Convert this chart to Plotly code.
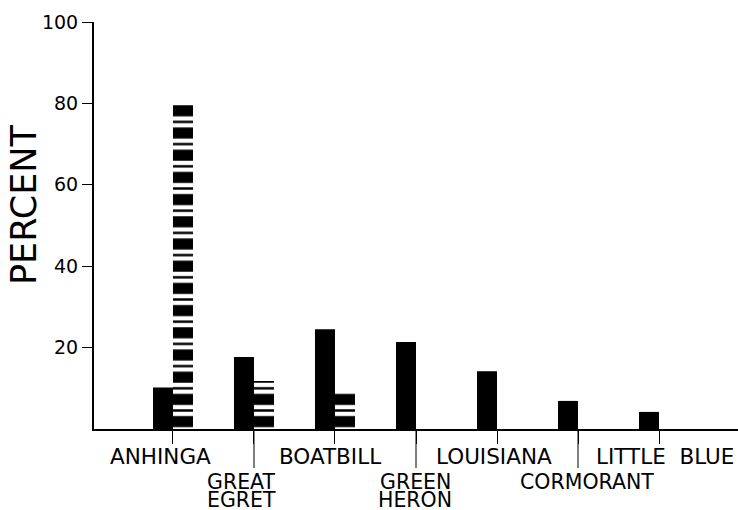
import plotly.graph_objects as go

# Species along the bottom axis, with the text lines used for each label
categories = ["ANHINGA", "GREAT EGRET", "BOATBILL", "GREEN HERON",
              "LOUISIANA", "CORMORANT", "LITTLE BLUE"]
label_lines = [["ANHINGA"], ["GREAT", "EGRET"], ["BOATBILL"], ["GREEN", "HERON"],
               ["LOUISIANA"], ["CORMORANT"], ["LITTLE\u00a0\u00a0BLUE"]]

# Percent values: solid bars and striped bars
solid_pct = [10.2, 17.7, 24.5, 21.4, 14.2, 6.9, 4.2]
striped_pct = [79.6, 11.8, 8.8, 0, 0, 0, 0]

y_tick_vals = [20, 40, 60, 80, 100]
y_tick_text = ["20", "40", "60", "80", "100"]

FONT = "DejaVu Sans"
BAR_W = 0.247          # bar width in category units
PLOT_H = 407           # plot height in px (for paper-coordinate conversions)
STRIPE = 22.2          # stripe period in px

x = list(range(len(categories)))

fig = go.Figure()

# Solid bars sit just left of each tick
fig.add_trace(go.Bar(
    x=x, y=solid_pct, width=BAR_W, offset=-BAR_W,
    marker=dict(color="black", line=dict(width=0)),
    hoverinfo="skip",
))

# Striped bars sit just right of each tick: black with wide white bands...
fig.add_trace(go.Bar(
    x=x, y=striped_pct, width=BAR_W, offset=0,
    marker=dict(color="black", line=dict(width=0),
                pattern=dict(shape="-", fillmode="replace",
                             fgcolor="white", fgopacity=1, bgcolor="black",
                             size=STRIPE, solidity=0.5)),
    hoverinfo="skip",
))
# ...and a thin black rule in the middle of every white band
fig.add_trace(go.Bar(
    x=x, y=striped_pct, width=BAR_W, offset=0,
    marker=dict(color="rgba(0,0,0,0)", line=dict(width=0),
                pattern=dict(shape="-", fillmode="replace",
                             fgcolor="black", fgopacity=1, bgcolor="rgba(0,0,0,0)",
                             size=STRIPE, solidity=0.11)),
    hoverinfo="skip",
))

shapes = []
annotations = []

# Staggered category labels; every other tick is drawn longer
label_shift = [-12.5, -12, -4.5, -1, -3.5, 9, 5.5]
upper_row = 457
lower_rows = [481, 499]
for i, lines in enumerate(label_lines):
    if i % 2 == 1:
        shapes.append(dict(type="line", xref="x", yref="paper",
                           x0=i, x1=i, y0=0, y1=-39 / PLOT_H,
                           line=dict(color="black", width=1)))
        rows = lower_rows
        size, box_h = 20.5, 17
    else:
        rows = [upper_row]
        size, box_h = 21.5, None
    for line, ypx in zip(lines, rows):
        annotations.append(dict(
            text=line, xref="x", yref="paper", x=i, xshift=label_shift[i],
            y=(429 - ypx) / PLOT_H, yanchor="middle", xanchor="center",
            height=box_h, valign="middle", borderpad=0,
            showarrow=False, font=dict(family=FONT, size=size, color="black"),
        ))

# Vertical axis title
annotations.append(dict(
    text="PERCENT", xref="paper", yref="paper",
    x=(24 - 94) / 644, y=(429 - 205) / PLOT_H,
    textangle=-90, showarrow=False, xanchor="center", yanchor="middle",
    font=dict(family=FONT, size=35, color="black"),
))

fig.update_layout(
    width=738, height=510,
    margin=dict(l=94, r=0, t=22, b=81),
    paper_bgcolor="white", plot_bgcolor="white",
    showlegend=False, barmode="overlay",
    shapes=shapes, annotations=annotations,
    font=dict(family=FONT, color="black"),
    xaxis=dict(range=[-0.975, 6.975], showline=True, linecolor="black", linewidth=2,
               tickvals=x, ticks="outside", ticklen=13, tickwidth=1, tickcolor="black",
               showticklabels=False, showgrid=False, zeroline=False, fixedrange=True),
    yaxis=dict(range=[0, 100], showline=True, linecolor="black", linewidth=2,
               tickvals=y_tick_vals, ticktext=y_tick_text, ticks="outside",
               ticklen=10, tickwidth=1, tickcolor="black",
               tickfont=dict(family=FONT, size=19, color="black"),
               showgrid=False, zeroline=False, fixedrange=True),
)

fig.write_html("out.html")
